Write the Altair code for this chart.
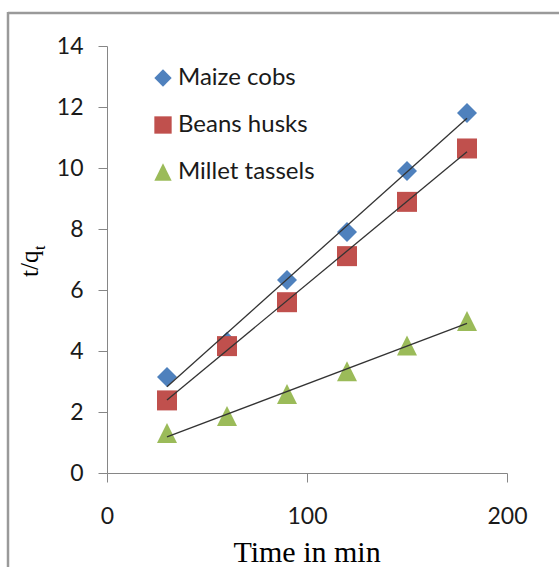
import altair as alt
import pandas as pd

# ---- data ----
times = [30, 60, 90, 120, 150, 180]
series = ["Maize cobs", "Beans husks", "Millet tassels"]
maize = [3.15, 4.3, 6.33, 7.9, 9.9, 11.8]
beans = [2.38, 4.16, 5.6, 7.11, 8.89, 10.64]
millet = [1.31, 1.87, 2.59, 3.34, 4.18, 4.98]
colors = ["#4F81BD", "#C0504D", "#9BBB59"]
shapes = ["diamond", "square", "M0,-1L1,1L-1,1Z"]
x_ticks = [0, 100, 200]
y_ticks = [0, 2, 4, 6, 8, 10, 12, 14]

rows = []
for name, vals in zip(series, [maize, beans, millet]):
    for t, v in zip(times, vals):
        rows.append({"time": t, "tq": v, "series": name})
df = pd.DataFrame(rows)

W, H = 400, 427
AX = "#868686"
TXT = "#1a1a1a"

xs = alt.Scale(domain=[0, 200], nice=False, zero=True)
ys = alt.Scale(domain=[0, 14], nice=False)

xaxis = alt.Axis(values=x_ticks, title=None, grid=False, domainColor=AX, tickColor=AX,
                 tickSize=9, labelFont="Lato", labelFontSize=23, labelColor=TXT,
                 labelPadding=23, labelFlush=False)
yaxis = alt.Axis(values=y_ticks, title=None, grid=False, domainColor=AX, tickColor=AX,
                 tickSize=9, labelFont="Lato", labelFontSize=23, labelColor=TXT,
                 labelPadding=15)

leg = alt.Legend(orient="none", legendX=44, legendY=20, title=None, labelFont="Lato",
                 labelFontSize=24, labelColor=TXT, symbolSize=300, rowPadding=23,
                 labelOffset=3, padding=0, symbolStrokeWidth=0, symbolOpacity=1,
                 labelLimit=400)

base = alt.Chart(df)

points = base.mark_point(filled=True, opacity=1, size=400).encode(
    x=alt.X("time:Q", scale=xs, axis=xaxis),
    y=alt.Y("tq:Q", scale=ys, axis=yaxis),
    color=alt.Color("series:N", scale=alt.Scale(domain=series, range=colors), legend=leg),
    shape=alt.Shape("series:N", scale=alt.Scale(domain=series, range=shapes), legend=leg),
)

lines = base.transform_regression(
    "time", "tq", groupby=["series"], extent=[30, 180]
).mark_line(color="#333333", strokeWidth=1.3).encode(
    x=alt.X("time:Q", scale=xs),
    y=alt.Y("tq:Q", scale=ys),
    detail="series:N",
)

one = pd.DataFrame({"a": [0]})
frame_top = alt.Chart(one).mark_rule(color="#9a9a9a", strokeWidth=2.5).encode(
    x=alt.value(-99), x2=alt.value(470), y=alt.value(-33))
frame_left = alt.Chart(one).mark_rule(color="#9a9a9a", strokeWidth=2.5).encode(
    x=alt.value(-99), y=alt.value(-34), y2=alt.value(560))

xtitle = alt.Chart(one).mark_text(font="Liberation Serif", fontSize=30, align="center",
                                  baseline="alphabetic", color="#000000").encode(
    x=alt.value(200), y=alt.value(516), text=alt.value("Time in min"))
ytitle = alt.Chart(one).mark_text(font="Liberation Serif", fontSize=25, angle=270, align="left",
                                  baseline="alphabetic", color="#000000").encode(
    x=alt.value(-69), y=alt.value(231), text=alt.value("t/q"))
ysub = alt.Chart(one).mark_text(font="Liberation Serif", fontSize=16, angle=270, align="left",
                                baseline="alphabetic", color="#000000").encode(
    x=alt.value(-62), y=alt.value(204), text=alt.value("t"))

chart = alt.layer(frame_top, frame_left, points, lines, xtitle, ytitle, ysub).properties(
    width=W, height=H,
    autosize=alt.AutoSizeParams(type="none"),
    padding={"left": 107, "top": 46, "right": 52, "bottom": 94},
    background="white",
).configure_view(stroke=None)

chart.save("out.html", embed_options={"renderer": "svg", "actions": False})
